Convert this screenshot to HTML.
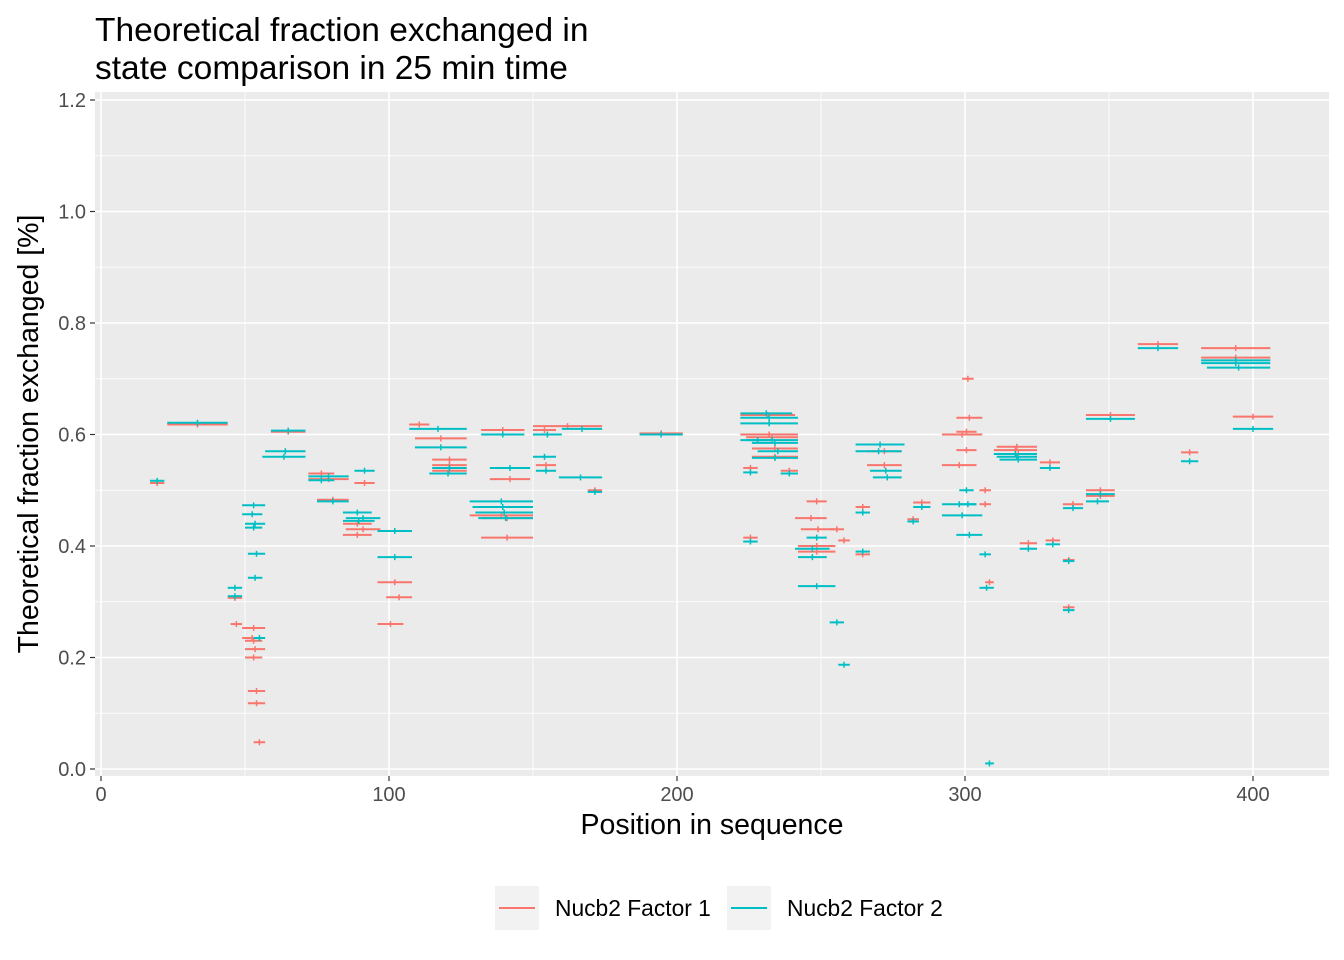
<!DOCTYPE html>
<html><head><meta charset="utf-8"><style>
body{margin:0;background:#fff;}
svg{display:block;font-family:"Liberation Sans",Arial,sans-serif;}
</style></head><body>
<svg id="chart" width="1344" height="960" viewBox="0 0 1344 960" xmlns="http://www.w3.org/2000/svg">
<text x="95" y="41" font-size="33.5" fill="#000">Theoretical fraction exchanged in</text>
<text x="95" y="79" font-size="33.5" fill="#000">state comparison in 25 min time</text>
<rect x="95" y="92" width="1234" height="684" fill="#ebebeb"/>
<g id="grid"></g>
<g id="marks"></g>
<g id="axes"></g>
<text x="712" y="834" font-size="28.5" text-anchor="middle" fill="#000">Position in sequence</text>
<text transform="translate(38,434) rotate(-90)" font-size="28.5" text-anchor="middle" fill="#000">Theoretical fraction exchanged [%]</text>
<g>
<rect x="495" y="886" width="44" height="44" fill="#f2f2f2"/>
<line x1="499" y1="908" x2="535" y2="908" stroke="#F8766D" stroke-width="2"/>
<text x="555" y="916" font-size="22.8" fill="#000">Nucb2 Factor 1</text>
<rect x="727" y="886" width="44" height="44" fill="#f2f2f2"/>
<line x1="731" y1="908" x2="767" y2="908" stroke="#00BFC4" stroke-width="2"/>
<text x="787" y="916" font-size="22.8" fill="#000">Nucb2 Factor 2</text>
</g>
</svg>
<script>
const xTicks=[0,100,200,300,400];
const yTicks=[0.0,0.2,0.4,0.6,0.8,1.0,1.2];
const yTickLabels=["0.0","0.2","0.4","0.6","0.8","1.0","1.2"];
const f1Start=[17,23,45,49,49,50,50,50,51,51,53,44,59,72,72,75,84,85,84,88,96,96,99,107,109,115,115,115,128,132,132,132,135,150,151,150,169,187,222,222,224,226,226,223,223,236,241,243,242,242,245,253,256,262,262,266,266,282,280,292,297,297,297,292,299,305,305,307,311,310,312,319,326,328,334,334,334,342,342,342,360,375,382,382,393];
const f1End=[22,44,49,57,56,56,57,56,57,57,57,49,71,81,86,86,94,97,94,95,108,105,108,114,127,127,127,127,150,147,150,150,149,158,158,174,174,202,241,242,242,242,242,228,228,242,252,255,255,255,252,258,260,267,267,278,278,288,284,306,306,304,304,304,303,309,309,310,325,325,325,325,333,333,338,341,338,359,352,352,374,381,406,406,407];
const f1Val=[0.513,0.618,0.26,0.253,0.235,0.23,0.215,0.2,0.14,0.118,0.048,0.307,0.605,0.53,0.52,0.483,0.44,0.43,0.42,0.513,0.335,0.26,0.308,0.618,0.593,0.555,0.545,0.535,0.455,0.608,0.45,0.415,0.52,0.608,0.545,0.615,0.5,0.602,0.635,0.6,0.595,0.575,0.56,0.415,0.54,0.535,0.45,0.43,0.4,0.39,0.48,0.43,0.41,0.47,0.385,0.57,0.545,0.478,0.448,0.6,0.63,0.605,0.572,0.545,0.7,0.5,0.475,0.335,0.578,0.572,0.565,0.405,0.55,0.41,0.375,0.475,0.29,0.635,0.5,0.49,0.762,0.568,0.755,0.738,0.632];
const f2Start=[17,23,49,49,50,50,51,51,44,44,53,59,57,56,72,72,75,84,85,84,88,96,96,107,109,114,115,128,132,129,130,131,135,150,151,150,160,159,169,187,222,222,222,224,222,226,228,226,223,223,236,241,242,245,242,253,256,262,262,262,262,267,268,282,280,292,292,297,298,298,305,305,307,310,311,312,319,326,328,334,334,334,342,342,342,360,375,382,382,384,393];
const f2End=[22,44,57,56,57,56,57,56,49,49,57,71,71,71,86,81,86,94,97,95,95,108,108,127,127,127,127,150,147,150,150,150,149,158,158,160,174,174,174,202,240,242,242,242,234,242,242,242,228,228,242,253,252,252,255,258,260,267,267,279,278,278,278,288,284,304,306,306,303,304,309,310,310,325,325,325,325,333,333,338,341,338,359,352,350,374,381,406,406,406,407];
const f2Val=[0.517,0.621,0.473,0.457,0.44,0.433,0.386,0.343,0.325,0.31,0.235,0.607,0.57,0.56,0.525,0.518,0.48,0.46,0.45,0.445,0.535,0.38,0.427,0.61,0.577,0.53,0.54,0.48,0.6,0.47,0.46,0.45,0.54,0.56,0.535,0.6,0.61,0.523,0.497,0.6,0.638,0.63,0.62,0.59,0.59,0.585,0.57,0.558,0.408,0.532,0.53,0.395,0.38,0.415,0.328,0.263,0.187,0.46,0.39,0.582,0.57,0.535,0.523,0.47,0.444,0.475,0.455,0.42,0.5,0.475,0.385,0.325,0.01,0.565,0.56,0.555,0.395,0.54,0.403,0.373,0.468,0.285,0.628,0.493,0.48,0.755,0.552,0.733,0.728,0.72,0.61];

const NS="http://www.w3.org/2000/svg";
const X=v=>101+v*2.88;
const Y=v=>769-v*557.5;
function mk(tag,attrs,parent){const e=document.createElementNS(NS,tag);for(const k in attrs)e.setAttribute(k,attrs[k]);parent.appendChild(e);return e;}
const grid=document.getElementById('grid'),axes=document.getElementById('axes'),marks=document.getElementById('marks');
for(let i=0;i<yTicks.length-1;i++){const yv=(yTicks[i]+yTicks[i+1])/2;const l=mk('line',{x1:95,x2:1329,y1:Y(yv),y2:Y(yv),stroke:'#fff','stroke-width':0.8},grid);

}
for(let i=0;i<xTicks.length;i++){const xv=xTicks[i]+50;if(X(xv)<1329){const l=mk('line',{x1:X(xv),x2:X(xv),y1:92,y2:776,stroke:'#fff','stroke-width':0.8},grid);

}}
yTicks.forEach((t,i)=>{const l=mk('line',{x1:95,x2:1329,y1:Y(t),y2:Y(t),stroke:'#fff','stroke-width':1.6},grid);


const tk=mk('line',{x1:90,x2:95,y1:Y(t),y2:Y(t),stroke:'#333','stroke-width':1.2},axes);


const tx=mk('text',{x:86,y:Y(t)+7,'font-size':20,'text-anchor':'end',fill:'#4d4d4d'},axes);tx.textContent=yTickLabels[i];

});
xTicks.forEach(t=>{const l=mk('line',{x1:X(t),x2:X(t),y1:92,y2:776,stroke:'#fff','stroke-width':1.6},grid);


const tk=mk('line',{x1:X(t),x2:X(t),y1:776,y2:781,stroke:'#333','stroke-width':1.2},axes);


const tx=mk('text',{x:X(t),y:801,'font-size':20,'text-anchor':'middle',fill:'#4d4d4d'},axes);tx.textContent=String(t);

});
function series(s,e,v,col,name){for(let i=0;i<v.length;i++){const g=mk('g',{},marks);


mk('line',{x1:X(s[i]),x2:X(e[i]),y1:Y(v[i]),y2:Y(v[i]),stroke:col,'stroke-width':2},g);
const m=X((s[i]+e[i])/2);mk('line',{x1:m,x2:m,y1:Y(v[i])-3,y2:Y(v[i])+3,stroke:col,'stroke-width':1.5},g);}}
series(f1Start,f1End,f1Val,'#F8766D','factor1');
series(f2Start,f2End,f2Val,'#00BFC4','factor2');
</script>
</body></html>
